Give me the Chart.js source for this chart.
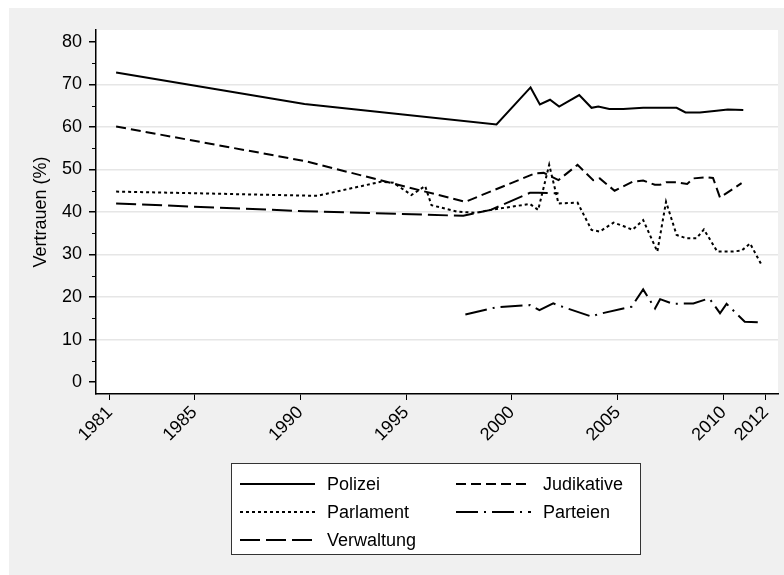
<!DOCTYPE html>
<html>
<head>
<meta charset="utf-8">
<script src="https://cdn.jsdelivr.net/npm/chart.js@4.4.1/dist/chart.umd.min.js"></script>
<style>
  html, body { margin: 0; background: #f0f0f0; font-family: "Liberation Sans", Arial, sans-serif; }
  #wrap { position: relative; width: 784px; height: 575px; overflow: hidden; background: #f0f0f0; }
  #topEdge { position: absolute; left: 0; top: 0; width: 784px; height: 8px; background: #fff; }
  #leftEdge { position: absolute; left: 0; top: 0; width: 9px; height: 575px; background: #fff; }
  #chart { position: absolute; left: 0; top: 0; }
  #legend {
    position: absolute; left: 231px; top: 463px; width: 410px; height: 92px;
    background: #fff; border: 1px solid #333; box-sizing: border-box;
    display: grid; grid-template-columns: 216px 190px; grid-auto-rows: 28px;
    padding: 6px 0 0 8px; font-size: 18px; color: #000;
  }
  .item { display: flex; align-items: center; }
  .item svg { margin-right: 12px; flex: none; }
</style>
</head>
<body>
<div id="wrap">
  <div id="topEdge"></div>
  <div id="leftEdge"></div>
  <canvas id="chart" width="784" height="575"></canvas>
  <div id="legend"></div>
</div>
<script>
// survey dates (decimal years) and confidence values in %
const polizeiYears = [1981.3, 1990.2, 1999.27, 2000.88, 2001.32, 2001.8, 2002.23, 2003.18, 2003.76, 2004.08, 2004.6, 2005.26, 2006.2, 2007.78, 2008.2, 2008.88, 2009.67, 2010.2, 2010.93];
const polizeiValues = [72.8, 65.4, 60.6, 69.3, 65.3, 66.4, 64.8, 67.5, 64.5, 64.8, 64.2, 64.2, 64.5, 64.5, 63.4, 63.4, 63.8, 64.1, 64.0];

const judikativeYears = [1981.3, 1990.2, 1997.8, 2001.1, 2001.5, 2002.2, 2003.1, 2003.84, 2004.15, 2004.85, 2005.7, 2006.2, 2006.75, 2007.0, 2007.3, 2007.78, 2008.28, 2008.57, 2009.2, 2009.5, 2009.83, 2010.85];
const judikativeValues = [60.1, 52.0, 42.4, 49.1, 49.2, 47.5, 51.1, 47.5, 47.9, 45.0, 47.1, 47.4, 46.4, 46.4, 47.0, 47.0, 46.6, 47.9, 48.2, 48.0, 43.4, 46.8];

const parlamentYears = [1981.3, 1990.8, 1993.8, 1994.4, 1995.25, 1995.9, 1996.2, 1997.4, 1998.3, 1999.0, 2000.85, 2001.24, 2001.76, 2002.2, 2003.1, 2003.76, 2004.15, 2004.8, 2005.26, 2005.7, 2006.2, 2006.87, 2007.28, 2007.78, 2008.25, 2008.72, 2009.07, 2009.7, 2010.38, 2010.85, 2011.25, 2011.8];
const parlamentValues = [44.8, 43.8, 47.1, 46.9, 44.0, 46.1, 41.6, 40.1, 39.8, 40.5, 41.9, 40.5, 51.1, 42.0, 42.2, 35.8, 35.4, 37.5, 36.7, 35.8, 38.1, 30.7, 42.4, 34.6, 33.8, 33.8, 35.9, 30.7, 30.7, 30.9, 32.6, 27.5];

const parteienYears = [1997.8, 1999.27, 2000.85, 2001.3, 2001.95, 2002.4, 2003.76, 2004.1, 2005.26, 2005.65, 2006.2, 2006.76, 2007.0, 2007.6, 2008.57, 2009.2, 2009.35, 2009.83, 2010.14, 2011.0, 2011.8];
const parteienValues = [15.9, 17.6, 18.1, 16.9, 18.5, 17.7, 15.4, 16.0, 17.3, 17.7, 21.8, 17.3, 19.5, 18.4, 18.5, 19.5, 19.5, 16.2, 18.4, 14.2, 14.0];

const verwaltungYears = [1981.3, 1990.2, 1997.7, 1999.0, 2000.85, 2001.24, 2002.2];
const verwaltungValues = [42.0, 40.2, 39.1, 40.5, 44.5, 44.5, 44.4];

const xTickYears = [1981, 1985, 1990, 1995, 2000, 2005, 2010, 2012];
const yMinorTicks = [5, 15, 25, 35, 45, 55, 65, 75];

const FONT = { family: "'Liberation Sans', Arial, sans-serif", size: 18 };

function points(xs, ys) {
  return xs.map((x, i) => ({ x: x, y: ys[i] }));
}

function series(label, xs, ys, dash) {
  return {
    label: label,
    data: points(xs, ys),
    borderColor: "#000",
    borderWidth: 2,
    borderDash: dash,
    pointRadius: 0,
    tension: 0,
    fill: false,
  };
}

// legend order follows the reference (row by row)
const datasets = [
  series("Polizei", polizeiYears, polizeiValues, []),
  series("Judikative", judikativeYears, judikativeValues, [10, 5]),
  series("Parlament", parlamentYears, parlamentValues, [3, 3]),
  series("Parteien", parteienYears, parteienValues, [22, 6, 2, 6]),
  series("Verwaltung", verwaltungYears, verwaltungValues, [20, 6]),
];

// white plot region plus short minor ticks on the y axis
const plotDecor = {
  id: "plotDecor",
  beforeDraw(chart) {
    const a = chart.chartArea;
    const ctx = chart.ctx;
    ctx.save();
    ctx.fillStyle = "#fff";
    ctx.fillRect(a.left, a.top, a.right - a.left, a.bottom - a.top);
    ctx.restore();
  },
  afterDraw(chart) {
    const a = chart.chartArea;
    const y = chart.scales.y;
    const ctx = chart.ctx;
    ctx.save();
    ctx.strokeStyle = "#000";
    ctx.lineWidth = 1;
    yMinorTicks.forEach((v) => {
      const py = Math.round(y.getPixelForValue(v)) + 0.5;
      ctx.beginPath();
      ctx.moveTo(a.left - 4, py);
      ctx.lineTo(a.left, py);
      ctx.stroke();
    });
    ctx.restore();
  },
};

const chart = new Chart(document.getElementById("chart"), {
  type: "line",
  data: { datasets: datasets },
  options: {
    responsive: false,
    animation: false,
    layout: { padding: { left: 0, right: 6, top: 30, bottom: 0 } },
    plugins: { legend: { display: false }, tooltip: { enabled: false } },
    scales: {
      x: {
        type: "linear",
        min: 1980.35,
        max: 2012.57,
        afterBuildTicks: (s) => { s.ticks = xTickYears.map((v) => ({ value: v })); },
        afterFit: (s) => { s.height = 181; s.paddingLeft = 0; s.paddingRight = 0; },
        ticks: {
          color: "#000",
          font: FONT,
          minRotation: 45,
          maxRotation: 45,
          autoSkip: false,
          padding: 2,
          callback: (v) => String(v),
        },
        grid: { drawOnChartArea: false, tickLength: 6, tickColor: "#000" },
        border: { color: "#000", width: 1.5 },
      },
      y: {
        min: -2.8,
        max: 82.8,
        ticks: { stepSize: 10, includeBounds: false, color: "#000", font: FONT, padding: 7 },
        afterFit: (s) => { s.width = 96; s.paddingTop = 0; s.paddingBottom = 0; },
        grid: {
          tickLength: 7,
          tickColor: "#000",
          lineWidth: 1.5,
          color: (c) => (c.tick && c.tick.value > 0 && c.tick.value < 80 ? "#e6e6e6" : "rgba(0,0,0,0)"),
        },
        border: { color: "#000", width: 1.5 },
        title: {
          display: true,
          text: "Vertrauen (%)",
          color: "#000",
          font: FONT,
          padding: { top: 30, bottom: 0 },
        },
      },
    },
  },
  plugins: [plotDecor],
});

// HTML legend built from the chart's own datasets
const legend = document.getElementById("legend");
chart.data.datasets.forEach((ds) => {
  const item = document.createElement("div");
  item.className = "item";
  const dash = ds.borderDash.length ? ds.borderDash.join(",") : "none";
  item.innerHTML =
    '<svg width="75" height="6"><line x1="0" y1="3" x2="75" y2="3" stroke="#000" stroke-width="2" stroke-dasharray="' +
    dash + '"/></svg><span>' + ds.label + "</span>";
  legend.appendChild(item);
});
</script>
</body>
</html>
